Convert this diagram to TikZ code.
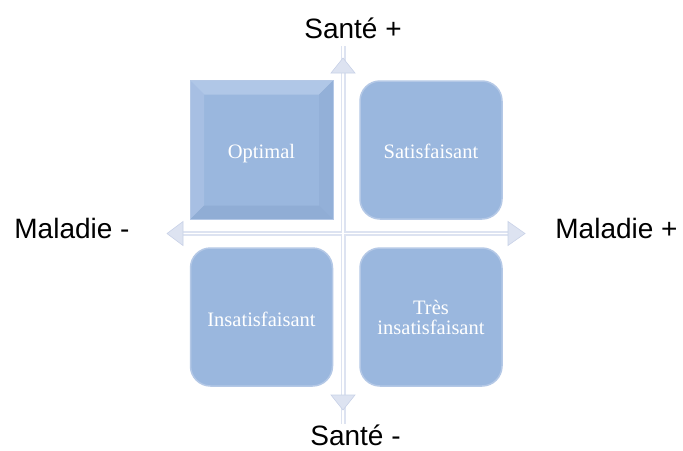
\documentclass[tikz,border=0pt]{standalone}
\usepackage{fontspec}
\setmainfont{Liberation Serif}
\newfontfamily\labelfont{Liberation Sans}
\definecolor{boxblue}{HTML}{9AB7DE}
\definecolor{boxrim}{HTML}{B4C8E6}
\definecolor{bevtop}{HTML}{B0C7E7}
\definecolor{bevleft}{HTML}{A7BFE3}
\definecolor{bevright}{HTML}{93B0D8}
\definecolor{bevbot}{HTML}{90ADD5}
\definecolor{axisfill}{HTML}{DDE3F1}
\definecolor{axisedge}{HTML}{C9D2E8}
\begin{document}
\begin{tikzpicture}[x=1pt,y=-1pt,
  quad/.style={minimum width=142pt, minimum height=138pt, inner sep=0pt},
  roundq/.style={quad, rounded corners=20pt, fill=boxblue, draw=boxrim, line width=1.5pt},
  flatq/.style={quad, fill=boxblue, draw=boxrim, line width=1pt},
  qtext/.style={text=white, align=center, inner sep=0pt, anchor=base,
    font=\fontsize{20.5}{20}\selectfont},
  axislabel/.style={font=\labelfont\fontsize{28}{30}\selectfont, text=black, inner sep=0pt, anchor=base},
  shaft/.style={draw=axisfill, line width=5pt},
  shaftcore/.style={draw=white, line width=1.2pt},
  head/.style={fill=axisfill, draw=axisedge, line width=0.6pt, line join=miter}
]
\useasboundingbox[fill=white] (0,0) rectangle (683,450);

% axis end points
\coordinate (top) at (343,58);
\coordinate (bot) at (343,410);
\coordinate (lft) at (167,233.5);
\coordinate (rgt) at (525,233.5);

% axes (shafts)
\draw[shaft] ([yshift=12]top) -- ([yshift=-14]bot);
\draw[shaft] ([xshift=14]lft) -- ([xshift=-16]rgt);
\draw[shaftcore] ([yshift=14]top) -- ([yshift=-15]bot);
\draw[shaftcore] ([xshift=15]lft) -- ([xshift=-17]rgt);
% arrow heads
\draw[head] (top) -- ([shift={(12,15)}]top) -- ([shift={(-12,15)}]top) -- cycle;
\draw[head] (bot) -- ([shift={(12,-15)}]bot) -- ([shift={(-12,-15)}]bot) -- cycle;
\draw[head] (lft) -- ([shift={(16,-12)}]lft) -- ([shift={(16,12)}]lft) -- cycle;
\draw[head] (rgt) -- ([shift={(-17,-12)}]rgt) -- ([shift={(-17,12)}]rgt) -- cycle;

% quadrant boxes
\node[flatq] (opt) at (261.5,150) {};
\fill[bevtop] (opt.north west) -- (opt.north east) -- ([shift={(-14,14)}]opt.north east) -- ([shift={(14,14)}]opt.north west) -- cycle;
\fill[bevleft] (opt.north west) -- ([shift={(14,14)}]opt.north west) -- ([shift={(14,-14)}]opt.south west) -- (opt.south west) -- cycle;
\fill[bevright] (opt.north east) -- ([shift={(-14,14)}]opt.north east) -- ([shift={(-14,-14)}]opt.south east) -- (opt.south east) -- cycle;
\fill[bevbot] (opt.south west) -- ([shift={(14,-14)}]opt.south west) -- ([shift={(-14,-14)}]opt.south east) -- (opt.south east) -- cycle;
\draw[boxrim, line width=1pt] (opt.north west) rectangle (opt.south east);

\node[roundq] (sat) at (431,150) {};
\node[roundq] (insat) at (261.5,317) {};
\node[roundq] (tres) at (431,317) {};

% box texts
\node[qtext] (optlabel) at (261.5,158) {Optimal};
\node[qtext] (satlabel) at (431,158) {Satisfaisant};
\node[qtext] (insatlabel) at (261.5,326) {Insatisfaisant};
\node[qtext] (treslabel) at (431,334) {Très\\insatisfaisant};

% axis labels
\node[axislabel] (santeplus) at (353,38) {Santé +};
\node[axislabel] (santemoins) at (355.5,445) {Santé -};
\node[axislabel] (maladiemoins) at (72,238.5) {Maladie -};
\node[axislabel] (maladieplus) at (616.5,238.5) {Maladie +};
\end{tikzpicture}
\end{document}
